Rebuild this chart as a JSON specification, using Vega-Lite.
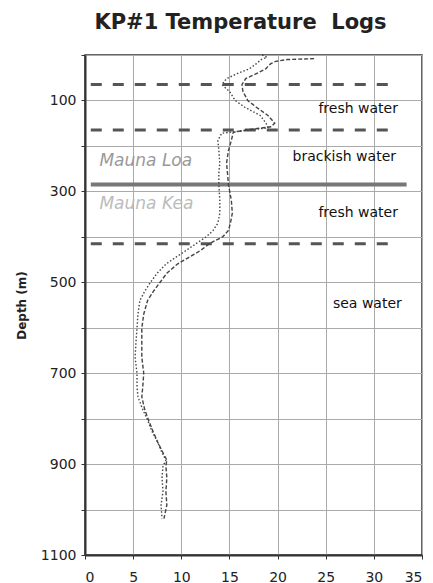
{
  "$schema": "https://vega.github.io/schema/vega-lite/v6.json",
  "autosize": {"type": "none"},
  "padding": {"left": 85, "top": 55, "right": 11, "bottom": 28},
  "width": 337,
  "height": 500,
  "background": "white",
  "title": {"text": "KP#1 Temperature\u00a0 Logs", "font": "DejaVu Sans", "fontSize": 21, "fontWeight": "bold", "color": "#222", "dx": -13, "offset": 19},
  "config": {
    "view": {"stroke": "#333", "strokeWidth": 1.5},
    "axis": {"domainColor": "#333", "domainWidth": 2, "tickColor": "#333", "tickSize": 4, "gridColor": "#aaa", "gridWidth": 1, "labelFont": "DejaVu Sans", "labelFontSize": 14, "labelColor": "#222"}
  },
  "datasets": {
    "logs": [
      {"log": "A", "depth": 8, "temp": 23.8}, {"log": "A", "depth": 10, "temp": 21.0}, {"log": "A", "depth": 14, "temp": 19.8}, {"log": "A", "depth": 19, "temp": 19.3}, {"log": "A", "depth": 25, "temp": 19.0}, {"log": "A", "depth": 30, "temp": 18.8}, {"log": "A", "depth": 41, "temp": 17.8}, {"log": "A", "depth": 52, "temp": 16.7}, {"log": "A", "depth": 65, "temp": 16.3}, {"log": "A", "depth": 80, "temp": 16.4}, {"log": "A", "depth": 100, "temp": 16.9}, {"log": "A", "depth": 115, "temp": 17.8}, {"log": "A", "depth": 133, "temp": 19.0}, {"log": "A", "depth": 150, "temp": 19.7}, {"log": "A", "depth": 158, "temp": 19.3}, {"log": "A", "depth": 164, "temp": 17.0}, {"log": "A", "depth": 170, "temp": 15.4}, {"log": "A", "depth": 188, "temp": 15.2}, {"log": "A", "depth": 210, "temp": 14.9}, {"log": "A", "depth": 238, "temp": 14.7}, {"log": "A", "depth": 260, "temp": 14.8}, {"log": "A", "depth": 285, "temp": 14.9}, {"log": "A", "depth": 320, "temp": 15.2}, {"log": "A", "depth": 348, "temp": 15.3}, {"log": "A", "depth": 370, "temp": 15.1}, {"log": "A", "depth": 386, "temp": 14.9}, {"log": "A", "depth": 400, "temp": 14.3}, {"log": "A", "depth": 414, "temp": 13.0}, {"log": "A", "depth": 430, "temp": 12.0}, {"log": "A", "depth": 444, "temp": 10.9}, {"log": "A", "depth": 460, "temp": 9.6}, {"log": "A", "depth": 480, "temp": 8.5}, {"log": "A", "depth": 500, "temp": 7.8}, {"log": "A", "depth": 520, "temp": 7.1}, {"log": "A", "depth": 540, "temp": 6.5}, {"log": "A", "depth": 570, "temp": 6.1}, {"log": "A", "depth": 601, "temp": 5.9}, {"log": "A", "depth": 630, "temp": 5.9}, {"log": "A", "depth": 665, "temp": 5.9}, {"log": "A", "depth": 700, "temp": 6.1}, {"log": "A", "depth": 730, "temp": 6.0}, {"log": "A", "depth": 752, "temp": 5.9}, {"log": "A", "depth": 780, "temp": 6.2}, {"log": "A", "depth": 803, "temp": 6.6}, {"log": "A", "depth": 830, "temp": 7.1}, {"log": "A", "depth": 854, "temp": 7.6}, {"log": "A", "depth": 875, "temp": 8.1}, {"log": "A", "depth": 891, "temp": 8.5}, {"log": "A", "depth": 905, "temp": 8.4}, {"log": "A", "depth": 930, "temp": 8.5}, {"log": "A", "depth": 960, "temp": 8.4}, {"log": "A", "depth": 990, "temp": 8.5}, {"log": "A", "depth": 1010, "temp": 8.3}, {"log": "A", "depth": 1020, "temp": 8.2},
      {"log": "B", "depth": 0, "temp": 18.4}, {"log": "B", "depth": 5, "temp": 18.9}, {"log": "B", "depth": 10, "temp": 18.3}, {"log": "B", "depth": 19, "temp": 17.8}, {"log": "B", "depth": 30, "temp": 17.1}, {"log": "B", "depth": 41, "temp": 15.8}, {"log": "B", "depth": 52, "temp": 14.7}, {"log": "B", "depth": 65, "temp": 14.2}, {"log": "B", "depth": 80, "temp": 15.0}, {"log": "B", "depth": 100, "temp": 15.6}, {"log": "B", "depth": 115, "temp": 16.6}, {"log": "B", "depth": 133, "temp": 18.2}, {"log": "B", "depth": 150, "temp": 18.8}, {"log": "B", "depth": 160, "temp": 19.0}, {"log": "B", "depth": 166, "temp": 16.8}, {"log": "B", "depth": 172, "temp": 14.2}, {"log": "B", "depth": 188, "temp": 13.8}, {"log": "B", "depth": 210, "temp": 13.9}, {"log": "B", "depth": 238, "temp": 14.0}, {"log": "B", "depth": 260, "temp": 13.9}, {"log": "B", "depth": 285, "temp": 13.9}, {"log": "B", "depth": 320, "temp": 14.0}, {"log": "B", "depth": 348, "temp": 14.0}, {"log": "B", "depth": 370, "temp": 13.8}, {"log": "B", "depth": 386, "temp": 13.3}, {"log": "B", "depth": 400, "temp": 12.6}, {"log": "B", "depth": 414, "temp": 11.6}, {"log": "B", "depth": 430, "temp": 10.5}, {"log": "B", "depth": 444, "temp": 9.5}, {"log": "B", "depth": 460, "temp": 8.4}, {"log": "B", "depth": 480, "temp": 7.5}, {"log": "B", "depth": 500, "temp": 6.8}, {"log": "B", "depth": 520, "temp": 6.2}, {"log": "B", "depth": 540, "temp": 5.7}, {"log": "B", "depth": 570, "temp": 5.5}, {"log": "B", "depth": 601, "temp": 5.4}, {"log": "B", "depth": 630, "temp": 5.3}, {"log": "B", "depth": 665, "temp": 5.2}, {"log": "B", "depth": 700, "temp": 5.4}, {"log": "B", "depth": 730, "temp": 5.4}, {"log": "B", "depth": 752, "temp": 5.5}, {"log": "B", "depth": 780, "temp": 6.0}, {"log": "B", "depth": 803, "temp": 6.5}, {"log": "B", "depth": 830, "temp": 7.0}, {"log": "B", "depth": 854, "temp": 7.6}, {"log": "B", "depth": 875, "temp": 8.0}, {"log": "B", "depth": 891, "temp": 8.4}, {"log": "B", "depth": 905, "temp": 8.1}, {"log": "B", "depth": 930, "temp": 8.0}, {"log": "B", "depth": 960, "temp": 8.1}, {"log": "B", "depth": 990, "temp": 7.9}, {"log": "B", "depth": 1020, "temp": 8.0}
    ],
    "boundaries": [
      {"depth": 65, "from": 0.6, "to": 32.2, "kind": "water"},
      {"depth": 165, "from": 0.6, "to": 32.2, "kind": "water"},
      {"depth": 415, "from": 0.6, "to": 32.2, "kind": "water"},
      {"depth": 285, "from": 0.6, "to": 33.4, "kind": "geologic"}
    ],
    "zones": [
      {"label": "fresh water", "depth": 119, "temp": 32.5},
      {"label": "brackish water", "depth": 224, "temp": 32.3},
      {"label": "fresh water", "depth": 348, "temp": 32.5},
      {"label": "sea water", "depth": 548, "temp": 32.9}
    ],
    "units": [
      {"label": "Mauna Loa", "depth": 234, "temp": 1.5},
      {"label": "Mauna Kea", "depth": 327, "temp": 1.5}
    ]
  },
  "layer": [
    {
      "data": {"name": "boundaries"},
      "transform": [{"filter": "datum.kind == 'water'"}],
      "mark": {"type": "rule", "color": "#555", "strokeWidth": 3, "strokeDash": [11, 11]},
      "encoding": {
        "x": {"field": "from", "type": "quantitative", "scale": {"domain": [0, 35]}, "axis": {"values": [0, 5, 10, 15, 20, 25, 30, 35], "title": null, "labelPadding": 11}},
        "x2": {"field": "to"},
        "y": {"field": "depth", "type": "quantitative", "scale": {"domain": [0, 1100], "reverse": true}, "axis": {"values": [0, 100, 200, 300, 400, 500, 600, 700, 800, 900, 1000, 1100], "format": "d", "labelExpr": "datum.value % 200 == 100 ? datum.label : ''", "title": "Depth (m)", "titleFont": "DejaVu Sans", "titleFontSize": 12, "titleFontWeight": "bold", "titleColor": "#222", "labelPadding": 5, "titlePadding": 12}}
      }
    },
    {
      "data": {"name": "boundaries"},
      "transform": [{"filter": "datum.kind == 'geologic'"}],
      "mark": {"type": "rule", "color": "#777", "strokeWidth": 4},
      "encoding": {
        "x": {"field": "from", "type": "quantitative"},
        "x2": {"field": "to"},
        "y": {"field": "depth", "type": "quantitative"}
      }
    },
    {
      "data": {"name": "logs"},
      "mark": {"type": "line", "color": "#444", "strokeWidth": 1.4},
      "encoding": {
        "x": {"field": "temp", "type": "quantitative"},
        "y": {"field": "depth", "type": "quantitative"},
        "order": {"field": "depth", "type": "quantitative"},
        "strokeDash": {"field": "log", "type": "nominal", "scale": {"domain": ["A", "B"], "range": [[4, 2], [1.5, 2]]}, "legend": null}
      }
    },
    {
      "data": {"name": "zones"},
      "mark": {"type": "text", "align": "right", "baseline": "middle", "font": "DejaVu Sans", "fontSize": 14, "color": "#111"},
      "encoding": {
        "x": {"field": "temp", "type": "quantitative"},
        "y": {"field": "depth", "type": "quantitative"},
        "text": {"field": "label"}
      }
    },
    {
      "data": {"name": "units"},
      "mark": {"type": "text", "align": "left", "baseline": "middle", "font": "DejaVu Sans", "fontSize": 17, "fontStyle": "italic"},
      "encoding": {
        "x": {"field": "temp", "type": "quantitative"},
        "y": {"field": "depth", "type": "quantitative"},
        "text": {"field": "label"},
        "color": {"field": "label", "type": "nominal", "scale": {"domain": ["Mauna Loa", "Mauna Kea"], "range": ["#999", "#bbb"]}, "legend": null}
      }
    }
  ]
}
